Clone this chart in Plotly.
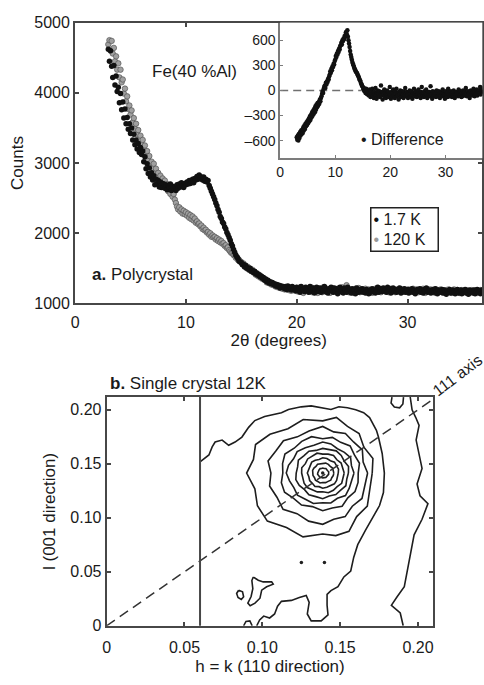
import numpy as np
import plotly.graph_objects as go

FONT = "Liberation Sans, Arial, Helvetica, sans-serif"
INK = "#1a1a1a"
FRAME = "#474747"

# ---------------- panel a: powder diffraction of Fe(40 %Al) ----------------
TWO_THETA_START = 3.0   # degrees
TWO_THETA_STEP = 0.1

COUNTS_1_7K = [
    4620, 4450, 4600, 4380, 4220, 4390, 4110, 4240, 4020, 4080,
    3860, 3990, 3760, 3870, 3640, 3770, 3560, 3650, 3480, 3560,
    3420, 3500, 3330, 3410, 3260, 3330, 3200, 3280, 3150, 3220,
    3120, 3170, 3020, 3090, 2920, 2990, 2850, 2930, 2800, 2860,
    2760, 2820, 2690, 2770, 2700, 2750, 2660, 2730, 2650, 2710,
    2700, 2640, 2690, 2620, 2680, 2660, 2700, 2610, 2670, 2640,
    2660, 2610, 2690, 2640, 2700, 2660, 2720, 2680, 2650, 2710,
    2690, 2730, 2700, 2750, 2710, 2740, 2770, 2720, 2780, 2760,
    2810, 2770, 2830, 2780, 2800, 2760, 2800, 2740, 2770, 2730,
    2750, 2680, 2640, 2600, 2560, 2520, 2480, 2430, 2390, 2340,
    2300, 2240, 2210, 2160, 2140, 2090, 2060, 2010, 1980, 1940,
    1900, 1850, 1820, 1770, 1730, 1690, 1660, 1640, 1600, 1590,
    1580, 1550, 1560, 1520, 1540, 1500, 1510, 1480, 1500, 1460,
    1470, 1440, 1460, 1420, 1430, 1400, 1410, 1380, 1390, 1360,
    1370, 1330, 1350, 1310, 1330, 1290, 1310, 1280, 1300, 1270,
    1280, 1250, 1270, 1240, 1260, 1220, 1250, 1230, 1240, 1210,
    1240, 1200, 1250, 1210, 1230, 1190, 1240, 1200, 1220, 1180,
    1230, 1180, 1210, 1160, 1240, 1190, 1200, 1170, 1230, 1180,
    1210, 1160, 1240, 1190, 1170, 1220, 1150, 1200, 1230, 1170,
    1190, 1220, 1160, 1210, 1180, 1240, 1170, 1200, 1150, 1210,
    1180, 1230, 1190, 1160, 1220, 1170, 1210, 1140, 1200, 1230,
    1170, 1200, 1150, 1220, 1190, 1160, 1230, 1180, 1200, 1150,
    1210, 1170, 1190, 1140, 1220, 1180, 1160, 1200, 1170, 1210,
    1160, 1190, 1150, 1200, 1170, 1140, 1190, 1160, 1210, 1170,
    1190, 1150, 1200, 1230, 1160, 1190, 1210, 1170, 1220, 1180,
    1200, 1160, 1230, 1180, 1210, 1150, 1190, 1220, 1170, 1200,
    1160, 1200, 1180, 1220, 1150, 1190, 1170, 1210, 1160, 1180,
    1200, 1150, 1190, 1170, 1210, 1160, 1190, 1140, 1180, 1200,
    1170, 1210, 1160, 1190, 1150, 1200, 1170, 1220, 1160, 1180,
    1190, 1150, 1180, 1200, 1160, 1210, 1170, 1140, 1190, 1160,
    1180, 1200, 1150, 1190, 1170, 1130, 1180, 1160, 1200, 1150,
    1170, 1190, 1160, 1140, 1180, 1200, 1150, 1170, 1190, 1140,
    1160, 1180, 1200, 1150, 1170, 1130, 1190, 1160, 1180, 1150,
    1190, 1140, 1170, 1200, 1160, 1180, 1140, 1190, 1170, 1150,
    1170,
]

COUNTS_120K = [
    4690, 4750, 4600, 4740, 4560, 4640, 4450, 4520, 4330, 4420,
    4220, 4330, 4150, 4190, 3990, 4060, 3880, 3950, 3770, 3820,
    3690, 3750, 3580, 3640, 3490, 3560, 3410, 3470, 3340, 3390,
    3270, 3330, 3190, 3250, 3120, 3170, 3040, 3100, 2970, 3020,
    2930, 2990, 2870, 2920, 2800, 2860, 2760, 2820, 2720, 2780,
    2700, 2750, 2650, 2700, 2600, 2640, 2560, 2610, 2520, 2560,
    2480, 2430, 2380, 2340, 2370, 2310, 2340, 2280, 2320, 2270,
    2300, 2250, 2280, 2220, 2260, 2200, 2240, 2180, 2210, 2150,
    2170, 2130, 2140, 2100, 2110, 2060, 2080, 2040, 2050, 2010,
    2020, 1980, 2000, 1950, 1970, 1940, 1950, 1910, 1930, 1890,
    1910, 1870, 1890, 1850, 1860, 1820, 1830, 1790, 1800, 1760,
    1740, 1720, 1720, 1690, 1690, 1650, 1660, 1620, 1620, 1600,
    1590, 1560, 1570, 1530, 1540, 1500, 1520, 1480, 1490, 1460,
    1480, 1440, 1450, 1410, 1430, 1390, 1410, 1370, 1380, 1350,
    1360, 1340, 1340, 1300, 1320, 1290, 1300, 1270, 1290, 1260,
    1270, 1240, 1260, 1230, 1250, 1220, 1240, 1210, 1230, 1200,
    1230, 1200, 1220, 1190, 1220, 1180, 1220, 1190, 1210, 1180,
    1220, 1170, 1200, 1230, 1180, 1210, 1150, 1200, 1190, 1220,
    1170, 1200, 1180, 1230, 1160, 1190, 1210, 1170, 1200, 1150,
    1210, 1180, 1200, 1160, 1230, 1190, 1170, 1210, 1180, 1200,
    1150, 1190, 1220, 1170, 1200, 1180, 1160, 1210, 1190, 1170,
    1200, 1230, 1170, 1190, 1210, 1260, 1180, 1160, 1200, 1190,
    1180, 1150, 1200, 1210, 1170, 1190, 1220, 1160, 1180, 1200,
    1190, 1170, 1210, 1180, 1160, 1200, 1170, 1190, 1150, 1180,
    1200, 1210, 1170, 1190, 1220, 1180, 1160, 1200, 1190, 1210,
    1170, 1190, 1200, 1160, 1180, 1210, 1170, 1190, 1200, 1160,
    1190, 1170, 1210, 1180, 1200, 1160, 1190, 1180, 1200, 1170,
    1180, 1200, 1160, 1190, 1170, 1210, 1180, 1160, 1200, 1190,
    1160, 1190, 1200, 1170, 1210, 1180, 1150, 1190, 1180, 1200,
    1170, 1200, 1160, 1180, 1190, 1150, 1200, 1180, 1160, 1190,
    1200, 1160, 1190, 1180, 1150, 1190, 1170, 1200, 1160, 1180,
    1150, 1180, 1200, 1170, 1160, 1190, 1180, 1150, 1170, 1190,
    1180, 1160, 1170, 1190, 1150, 1180, 1170, 1160, 1190, 1170,
    1160, 1180, 1190, 1150, 1170, 1160, 1190, 1170, 1150, 1180,
    1160,
]

# 1.7 K minus 120 K (inset)
DIFFERENCE = [
    -560, -590, -540, -600, -520, -570, -500, -540, -480, -520,
    -470, -510, -440, -480, -420, -460, -400, -430, -380, -410,
    -360, -390, -340, -370, -310, -350, -290, -320, -260, -300,
    -240, -280, -220, -260, -190, -230, -170, -200, -150, -180,
    -140, -160, -110, -130, -90, -70, -40, -10, -30, 20,
    40, 60, 30, 90, 70, 110, 100, 140, 130, 170,
    190, 230, 210, 260, 240, 290, 280, 320, 310, 350,
    370, 410, 400, 440, 430, 470, 460, 500, 490, 530,
    540, 570, 550, 600, 590, 620, 610, 650, 640, 690,
    700, 670, 720, 640, 600, 560, 520, 470, 430, 400,
    370, 340, 320, 300, 280, 260, 250, 230, 220, 210,
    200, 180, 170, 150, 130, 120, 100, 80, 70, 50,
    40, 10, 30, -10, 0, -30, 20, -40, -10, -50,
    -20, -60, 10, -40, -80, -10, -50, 20, -70, -30,
    -90, -20, -50, 30, -60, -100, -30, 0, -70, -40,
    -10, -80, -40, 60, -60, -20, -110, -30, -50, 10,
    -70, -30, -90, -40, 0, -60, -20, -80, -40, 40,
    -50, -100, -20, -70, -30, 10, -60, -40, -90, -10,
    -40, 20, -70, -30, -60, -110, -20, -50, 0, -80,
    -30, -70, -10, -50, -90, -20, -60, 30, -40, -70,
    -20, -60, -90, -30, -50, 0, -80, -40, -10, -60,
    -100, -30, -50, 20, -70, -40, -10, -60, -80, -20,
    -50, 10, -70, -30, -60, -90, -20, 40, -40, -70,
    -30, -80, -10, -60, -40, 10, -50, -90, -20, -40,
    -60, -20, -70, 50, -30, -50, -100, -10, -40, -70,
    -20, -60, -40, -80, 0, -50, -30, -70, -10, -50,
    -90, -30, -60, -20, -40, 10, -70, -30, -50, -100,
    -40, -10, -60, -30, -80, 20, -50, -20, -70, -40,
    -10, -50, -80, -30, -60, 0, -40, -90, -20, -50,
    -60, -20, -40, -70, 10, -30, -60, -10, -50, -80,
    -30, -70, 0, -40, -60, -20, -50, 30, -30, -70,
    -50, -10, -60, -30, -90, -20, 0, -50, -30, -60,
    -20, 20, -40, -70, -10, -50, -30, 10, -60, -20,
    -40, 0, -30, 40, -50, -10, 30, -20, -40, 10,
    -20,
]

DIFF_ZERO_LINE_END = 14.7       # reference line at 0 in the inset, 2θ up to here

MAIN_Y_TICKS = [1000, 2000, 3000, 4000, 5000]
MAIN_X_TICKS = [0, 10, 20, 30]
INSET_Y_TICKS = [-600, -300, 0, 300, 600]
INSET_Y_LABELS = ["\u2013600", "\u2013300", "0", "300", "600"]

two_theta = TWO_THETA_START + TWO_THETA_STEP * np.arange(len(COUNTS_1_7K))

# ---------------- panel b: single crystal, 12 K, contour map ----------------
PEAK_H, PEAK_L = 0.1388, 0.1414

# closed contours around the peak: extent to the left / right / up / down
RING_LEFT = [0.0032, 0.0064, 0.0095, 0.0134, 0.0172, 0.0223, 0.0267, 0.0343, 0.0470]
RING_RIGHT = [0.0038, 0.0070, 0.0102, 0.0134, 0.0165, 0.0197, 0.0235, 0.0280, 0.0318]
RING_UP = [0.0045, 0.0090, 0.0136, 0.0181, 0.0226, 0.0271, 0.0335, 0.0407, 0.0498]
RING_DOWN = [0.0045, 0.0090, 0.0136, 0.0181, 0.0226, 0.0281, 0.0335, 0.0452, 0.0588]
# local irregularity of each contour, every 15 degrees around the peak
RING_WOBBLE = [
    [1.00, 1.05, 0.95, 1.00, 1.08, 0.96, 1.02, 0.97, 1.05, 1.00, 0.94, 1.03,
     1.00, 1.06, 0.96, 1.00, 1.04, 0.95, 1.02, 0.98, 1.05, 0.97, 1.00, 1.03],
    [1.02, 0.97, 1.04, 0.98, 1.03, 1.06, 0.97, 1.00, 1.04, 0.96, 1.02, 1.05,
     0.98, 1.01, 0.95, 1.03, 1.00, 1.06, 0.97, 1.02, 0.99, 1.04, 0.96, 1.00],
    [0.98, 1.03, 1.00, 1.05, 0.97, 1.02, 1.04, 0.96, 1.01, 1.05, 0.98, 1.00,
     1.04, 0.97, 1.02, 0.99, 1.05, 0.96, 1.03, 1.00, 0.97, 1.04, 1.01, 0.98],
    [1.03, 0.98, 1.02, 0.96, 1.04, 1.00, 0.97, 1.05, 0.99, 1.02, 0.96, 1.04,
     1.01, 0.97, 1.03, 1.05, 0.98, 1.00, 0.96, 1.04, 1.02, 0.98, 1.05, 0.99],
    [1.00, 1.04, 0.97, 1.02, 1.05, 0.98, 1.01, 0.96, 1.03, 1.00, 1.05, 0.97,
     0.99, 1.04, 1.01, 0.96, 1.03, 1.00, 1.05, 0.97, 1.02, 0.99, 1.04, 0.97],
    [1.02, 0.97, 1.05, 1.00, 0.96, 1.03, 1.06, 0.98, 1.00, 1.04, 0.97, 1.02,
     1.05, 0.99, 0.96, 1.03, 1.00, 1.04, 0.98, 1.02, 0.96, 1.05, 1.00, 0.98],
    [0.97, 1.04, 1.00, 1.06, 0.98, 1.02, 0.95, 1.04, 1.01, 0.97, 1.05, 1.00,
     0.96, 1.03, 1.06, 0.99, 1.02, 0.96, 1.04, 1.00, 1.06, 0.97, 1.02, 1.00],
    [1.03, 0.96, 1.05, 1.00, 1.04, 0.97, 1.06, 0.99, 0.95, 1.04, 1.01, 1.06,
     0.97, 1.03, 0.99, 1.05, 0.96, 1.02, 1.05, 0.98, 1.03, 0.96, 1.04, 1.00],
    [1.00, 1.05, 0.96, 1.04, 1.00, 1.07, 0.97, 1.03, 0.95, 1.02, 1.06, 0.98,
     1.04, 0.96, 1.03, 1.07, 0.99, 1.04, 0.96, 1.02, 1.06, 0.97, 1.04, 0.99],
]
RING_STEP_DEG = 15

# outer contour: from the h = 0.06 cut, over the peak, down to the lower edge
OUTER_H = [0.0602, 0.0657, 0.0678, 0.0697, 0.0742, 0.0784, 0.0825, 0.0869, 0.0912,
           0.0952, 0.1015, 0.1060, 0.1123, 0.1168, 0.1250, 0.1314, 0.1378, 0.1441,
           0.1492, 0.1547, 0.1600, 0.1651, 0.1689, 0.1714, 0.1733, 0.1746, 0.1770,
           0.1784, 0.1778, 0.1753, 0.1708, 0.1664, 0.1613, 0.1587, 0.1568, 0.1524,
           0.1486, 0.1441, 0.1416, 0.1416, 0.1422, 0.1378, 0.1314, 0.1289, 0.1301,
           0.1282, 0.1238, 0.1187, 0.1123, 0.1098, 0.1079, 0.1047, 0.1009, 0.0983,
           0.0964]
OUTER_L = [0.1520, 0.1581, 0.1656, 0.1701, 0.1719, 0.1671, 0.1701, 0.1747, 0.1837,
           0.1900, 0.1937, 0.1955, 0.1973, 0.2003, 0.2027, 0.2036, 0.2018, 0.2003,
           0.2027, 0.2018, 0.2000, 0.1973, 0.1928, 0.1867, 0.1810, 0.1747, 0.1595,
           0.1414, 0.1233, 0.1113, 0.1005, 0.0887, 0.0751, 0.0633, 0.0507, 0.0452,
           0.0362, 0.0326, 0.0290, 0.0190, 0.0100, 0.0045, 0.0045, 0.0109, 0.0217,
           0.0281, 0.0262, 0.0235, 0.0226, 0.0181, 0.0109, 0.0072, 0.0090, 0.0054,
           0.0]

# contour along the right-hand side, top edge to bottom edge
RIGHT_H = [0.1950, 0.1962, 0.1985, 0.2007, 0.1988, 0.2007, 0.2026, 0.1994, 0.2013,
           0.2064, 0.2026, 0.1975, 0.1956, 0.1931, 0.1912, 0.1867, 0.1829, 0.1886,
           0.1905]
RIGHT_L = [0.2118, 0.2000, 0.1930, 0.1855, 0.1719, 0.1593, 0.1457, 0.1312, 0.1204,
           0.1131, 0.0986, 0.0842, 0.0697, 0.0507, 0.0362, 0.0271, 0.0190, 0.0118,
           0.0]

# small pocket at the top edge
POCKET_H = [0.1833, 0.1827, 0.1848, 0.1882, 0.1903, 0.1907]
POCKET_L = [0.2117, 0.2063, 0.2025, 0.2018, 0.2054, 0.2117]

# islands in the lower left
ISLAND_H = [0.0942, 0.0974, 0.1006, 0.1060, 0.1070, 0.1028, 0.0996, 0.0985, 0.0953,
            0.0922, 0.0907, 0.0928, 0.0939, 0.0933, 0.0942]
ISLAND_L = [0.0451, 0.0421, 0.0406, 0.0406, 0.0385, 0.0361, 0.0330, 0.0255, 0.0210,
            0.0185, 0.0210, 0.0271, 0.0344, 0.0419, 0.0451]
LOOP_H = [0.0848, 0.0873, 0.0880, 0.0865, 0.0844, 0.0835, 0.0848]
LOOP_L = [0.0329, 0.0314, 0.0269, 0.0244, 0.0262, 0.0299, 0.0329]
EDGE_H = [0.0880, 0.0895, 0.0920, 0.0935]
EDGE_L = [0.0, 0.0040, 0.0045, 0.0]

# isolated single-point maxima
SPOT_H = [0.1251, 0.1399, PEAK_H]
SPOT_L = [0.0585, 0.0585, PEAK_L]

CUT_H = 0.06                    # measured region starts at h = 0.06
AXIS_111_H = [0.0, 0.25]        # the [111] direction, l = h
B_TICKS = [0, 0.05, 0.10, 0.15, 0.20]
B_TICK_LABELS = ["0", "0.05", "0.10", "0.15", "0.20"]

# ---------------------------------------------------------------------------
fig = go.Figure()

fig.add_trace(go.Scatter(
    x=two_theta, y=COUNTS_120K, mode="markers", name="120 K",
    marker=dict(size=5.5, color="#a0a0a0", line=dict(width=0.7, color="#555555")),
    xaxis="x", yaxis="y", showlegend=False))
fig.add_trace(go.Scatter(
    x=two_theta, y=COUNTS_1_7K, mode="markers", name="1.7 K",
    marker=dict(size=5.5, color="#111111"),
    xaxis="x", yaxis="y", showlegend=False))

fig.add_trace(go.Scatter(
    x=[0, DIFF_ZERO_LINE_END], y=[0, 0], mode="lines",
    line=dict(color="#707070", width=1.5, dash="8px,5px"),
    xaxis="x2", yaxis="y2", showlegend=False, hoverinfo="skip"))
fig.add_trace(go.Scatter(
    x=two_theta, y=DIFFERENCE, mode="markers", name="Difference",
    marker=dict(size=4.5, color="#111111"),
    xaxis="x2", yaxis="y2", showlegend=False))

# contour rings around the peak
theta = np.deg2rad(np.arange(0, 360, RING_STEP_DEG))
cos_t, sin_t = np.cos(theta), np.sin(theta)
for k in range(len(RING_LEFT)):
    w = np.array(RING_WOBBLE[k])
    dh = np.where(cos_t >= 0, RING_RIGHT[k], RING_LEFT[k]) * cos_t * w
    dl = np.where(sin_t >= 0, RING_UP[k], RING_DOWN[k]) * sin_t * w
    hh = np.append(PEAK_H + dh, PEAK_H + dh[0])
    ll = np.append(PEAK_L + dl, PEAK_L + dl[0])
    fig.add_trace(go.Scatter(
        x=hh, y=ll, mode="lines", line=dict(color="#1e1e1e", width=1.6),
        xaxis="x3", yaxis="y3", showlegend=False, hoverinfo="skip"))

for hs, ls in [(OUTER_H, OUTER_L), (RIGHT_H, RIGHT_L), (POCKET_H, POCKET_L),
               (ISLAND_H, ISLAND_L), (LOOP_H, LOOP_L), (EDGE_H, EDGE_L)]:
    fig.add_trace(go.Scatter(
        x=hs, y=ls, mode="lines", line=dict(color="#1e1e1e", width=1.6),
        xaxis="x3", yaxis="y3", showlegend=False, hoverinfo="skip"))

fig.add_trace(go.Scatter(
    x=SPOT_H, y=SPOT_L, mode="markers", marker=dict(size=3.5, color="#202020"),
    xaxis="x3", yaxis="y3", showlegend=False, hoverinfo="skip"))

fig.add_trace(go.Scatter(
    x=AXIS_111_H, y=AXIS_111_H, mode="lines",
    line=dict(color="#333333", width=1.5, dash="10px,6px"),
    xaxis="x3", yaxis="y3", showlegend=False, hoverinfo="skip"))

fig.add_shape(type="line", xref="x3", yref="y3 domain", x0=CUT_H, x1=CUT_H,
              y0=0, y1=1, line=dict(color=FRAME, width=2))

tick_font = dict(family=FONT, size=16, color=INK)
title_font = dict(family=FONT, size=17, color=INK)
frame = dict(showline=True, linecolor=FRAME, linewidth=2, mirror="ticks",
             ticks="inside", ticklen=4, tickwidth=1.5, tickcolor=FRAME,
             showgrid=False, zeroline=False, tickfont=tick_font)
inset = dict(showline=True, linecolor="#7c7c7c", linewidth=1.5, mirror=False,
             ticks="inside", ticklen=3, tickwidth=1.2, tickcolor="#7c7c7c",
             showgrid=False, zeroline=False,
             tickfont=dict(family=FONT, size=14, color=INK))

fig.update_layout(
    width=484, height=685,
    margin=dict(l=0, r=0, t=0, b=0),
    paper_bgcolor="white", plot_bgcolor="white",
    font=dict(family=FONT, color=INK),
    xaxis=dict(domain=[0.1481, 0.9965], range=[0, 36.75], anchor="y",
               tickvals=MAIN_X_TICKS, ticklabelstandoff=3,
               title=dict(text="2\u03b8 (degrees)", font=title_font, standoff=4),
               **frame),
    yaxis=dict(domain=[0.5577, 0.9781], range=[1000, 5000], anchor="x",
               tickvals=MAIN_Y_TICKS,
               title=dict(text="Counts", font=title_font, standoff=6),
               **frame),
    xaxis2=dict(domain=[0.5754, 0.9965], range=[0, 36.7], anchor="y2",
                tickvals=MAIN_X_TICKS, **inset),
    yaxis2=dict(domain=[0.7752, 0.9781], range=[-810, 810], anchor="x2",
                tickvals=INSET_Y_TICKS, ticktext=INSET_Y_LABELS, **inset),
    xaxis3=dict(domain=[0.2138, 0.8946], range=[0, 0.2099], anchor="y3",
                tickvals=B_TICKS, ticktext=B_TICK_LABELS, ticklabelstandoff=6,
                title=dict(text="h = k (110 direction)", font=title_font, standoff=5),
                **frame),
    yaxis3=dict(domain=[0.0752, 0.4175], range=[0, 0.2117], anchor="x3",
                tickvals=B_TICKS, ticktext=B_TICK_LABELS,
                title=dict(text="l (001 direction)", font=title_font, standoff=10),
                **frame),
)

notes = [
    dict(text="Fe(40 %Al)", x=0.3037, y=0.9051, xanchor="left", yanchor="middle",
         font=dict(family=FONT, size=17, color=INK)),
    dict(text="<b>a.</b> Polycrystal", x=0.1798, y=0.6015, xanchor="left",
         yanchor="middle", font=dict(family=FONT, size=17, color=INK)),
    dict(text="<span style='color:#111111'>\u2022</span> 1.7 K<br>"
              "<span style='color:#9a9a9a'>\u2022</span> 120 K",
         x=0.7624, y=0.7022, xanchor="left", yanchor="top", align="left",
         width=62, height=38, borderpad=2, bordercolor="#222222", borderwidth=1.5,
         font=dict(family=FONT, size=16, color=INK)),
    dict(text="\u2022 Difference", x=0.7397, y=0.8029, xanchor="left",
         yanchor="middle", font=dict(family=FONT, size=16, color=INK)),
    dict(text="<b>b.</b> Single crystal 12K", x=0.2169, y=0.4380, xanchor="left",
         yanchor="middle", font=dict(family=FONT, size=17, color=INK)),
    dict(text="111 axis", x=0.9442, y=0.4496, xanchor="center", yanchor="middle",
         textangle=-37, font=dict(family=FONT, size=16, color=INK)),
]
for n in notes:
    fig.add_annotation(xref="paper", yref="paper", showarrow=False, **n)

fig.write_html("out.html")
